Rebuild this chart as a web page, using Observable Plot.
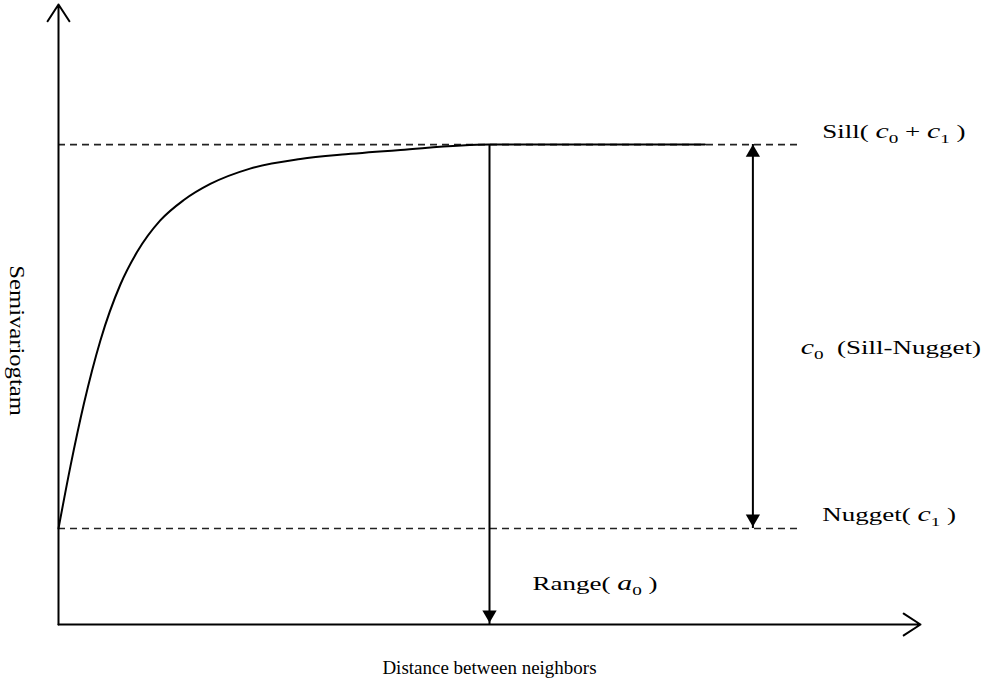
<!DOCTYPE html>
<html>
<head>
<meta charset="utf-8">
<script src="https://cdn.jsdelivr.net/npm/d3@7"></script>
<script src="https://cdn.jsdelivr.net/npm/@observablehq/plot@0.6"></script>
<style>
  body { margin: 0; background: #fff; }
  #chart svg { display: block; }
</style>
</head>
<body>
<div id="chart"></div>
<script>
// Theoretical semivariogram model: lag distance vs. semivariance
const distance     = [0, 0.25, 0.53, 0.875, 1.29, 1.64, 2.125, 2.61, 3.17, 4.0, 5.05, 6.0, 7.14, 9, 13.5];
const semivariance = [2, 3.3, 4.6, 5.92, 7.08, 7.76, 8.42, 8.84, 9.18, 9.50, 9.70, 9.80, 9.89, 10, 10];

// Model parameters
const nugget = 2;   // c1
const sill = 10;    // c0 + c1
const range = 9;    // a0

// Extent of the drawing area, in distance / semivariance units
const xMax = 18;
const yMax = 12.92;
const guideEnd = 15.5;   // end of the dashed sill / nugget guides
const spanX = 14.5;      // position of the sill-minus-nugget bracket
const labelX = 15.95;    // start of the sill and nugget labels

// Label texts ("c_0" = italic c with subscript 0)
const sillLabel = "Sill( c_0 + c_1 )";
const nuggetLabel = "Nugget( c_1 )";
const spanLabel = "c_0  (Sill-Nugget)";
const rangeLabel = "Range( a_0 )";
const xTitle = "Distance between neighbors";
const yTitle = "Semivariogtam";

const curve = distance.map((d, i) => ({d, g: semivariance[i]}));
const font = "'Liberation Serif', 'Times New Roman', serif";

const txt = {fontSize: 19, fontFamily: font, fill: "#000"};
const head = {symbol: "triangle", r: 5.3, fill: "#000", stroke: "none"};

const chart = Plot.plot({
  width: 984,
  height: 691,
  margin: 0,
  style: {fontFamily: font, background: "#fff", overflow: "visible"},
  x: {domain: [0, xMax], range: [58, 920], axis: null},
  y: {domain: [0, yMax], range: [624, 4], axis: null},
  marks: [
    // dashed guides at the sill and nugget levels
    Plot.ruleY([sill, nugget], {x1: 0, x2: guideEnd, stroke: "#222", strokeWidth: 1.6, strokeDasharray: "7,5"}),
    // axes with open arrowheads
    Plot.arrow([{x1: 0, y1: 0, x2: 0, y2: yMax}, {x1: 0, y1: 0, x2: xMax, y2: 0}], {
      x1: "x1", y1: "y1", x2: "x2", y2: "y2",
      stroke: "#000", strokeWidth: 2, headLength: 15, headAngle: 66
    }),
    // model curve
    Plot.line(curve, {x: "d", y: "g", curve: "monotone-x", stroke: "#000", strokeWidth: 2}),
    // range marker
    Plot.ruleX([range], {y1: 0, y2: sill, stroke: "#000", strokeWidth: 2}),
    Plot.dot([range], {x: d => d, y: 0, rotate: 180, dy: -10, ...head}),
    // sill - nugget bracket
    Plot.ruleX([spanX], {y1: nugget, y2: sill, stroke: "#000", strokeWidth: 2}),
    Plot.dot([spanX], {x: d => d, y: sill, dy: 8, ...head}),
    Plot.dot([spanX], {x: d => d, y: nugget, rotate: 180, dy: -10, ...head}),
    // annotation labels
    Plot.text([sillLabel], {x: labelX, y: sill, text: d => d, textAnchor: "start", dy: -13, ...txt}),
    Plot.text([nuggetLabel], {x: labelX, y: nugget, text: d => d, textAnchor: "start", dy: -14, ...txt}),
    Plot.text([spanLabel], {x: guideEnd, y: (sill + nugget) / 2, text: d => d, textAnchor: "start", dy: 11, ...txt}),
    Plot.text([rangeLabel], {x: range + 0.9, y: 0, text: d => d, textAnchor: "start", dy: -41, ...txt}),
    // axis titles
    Plot.text([xTitle], {x: xMax / 2, frameAnchor: "bottom", text: d => d, dy: -18, ...txt}),
    Plot.text([yTitle], {y: (sill + nugget) / 2, frameAnchor: "left", textAnchor: "middle", text: d => d, rotate: 90, dx: 17, dy: 4, ...txt, fontSize: 22})
  ]
});

// Widen a text element along its own baseline
function stretch(node, k) {
  let t = node.getAttribute("transform");
  if (t == null) {
    const x = +node.getAttribute("x") || 0, y = +node.getAttribute("y") || 0;
    node.removeAttribute("x"); node.removeAttribute("y");
    t = `translate(${x},${y})`;
  }
  node.setAttribute("transform", `${t} scale(${k},1)`);
}

// Typeset "c_0"-style tokens as an italic symbol with a subscript
d3.select(chart).selectAll("text").each(function () {
  const s = this.textContent;
  if (s === yTitle) { stretch(this, 1.12); return; }
  if (![sillLabel, nuggetLabel, spanLabel, rangeLabel].includes(s)) return;
  const el = d3.select(this);
  el.text(null);
  const parts = s.split(/([a-z])_(\d)/);
  let shifted = false;
  for (let i = 0; i < parts.length; i += 3) {
    if (parts[i]) {
      const t = el.append("tspan").text(parts[i]);
      if (shifted) { t.attr("dy", -5); shifted = false; }
    }
    if (i + 2 < parts.length) {
      const v = el.append("tspan").attr("font-style", "italic").attr("font-size", 21).text(parts[i + 1]);
      if (shifted) v.attr("dy", -5);
      el.append("tspan").attr("font-size", 13.5).attr("dy", 5).text(parts[i + 2]);
      shifted = true;
    }
  }
  stretch(this, 1.42);
});

document.getElementById("chart").appendChild(chart);
</script>
</body>
</html>
